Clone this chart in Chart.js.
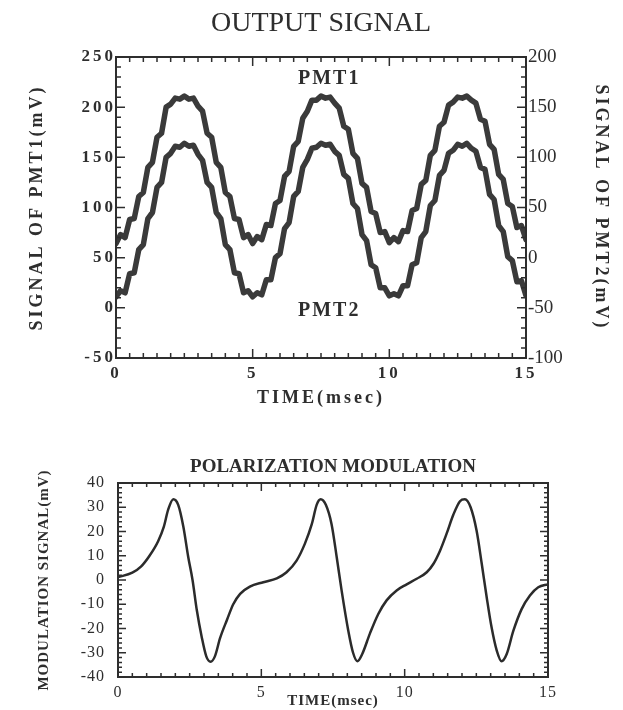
<!DOCTYPE html>
<html lang="en">
<head>
<meta charset="UTF-8">
<title>Output signal / Polarization modulation</title>
<script src="https://cdn.jsdelivr.net/npm/chart.js@4"></script>
<style>
  body { margin: 0; background: #fff; }
  #wrap { position: relative; width: 623px; height: 710px; }
  canvas { position: absolute; left: 0; }
  #topChart { top: 0; }
  #bottomChart { top: 430px; }
</style>
</head>
<body>
<div id="wrap">
  <canvas id="topChart" width="623" height="420"></canvas>
  <canvas id="bottomChart" width="623" height="280"></canvas>
</div>
<script>
// ---- values ----
// output signal, sampled at the corners of the ripple steps (msec)
const topTime = [0, 0.167, 0.333, 0.5, 0.667, 0.833, 1, 1.167, 1.333, 1.5, 1.667, 1.833,
  2, 2.167, 2.333, 2.5, 2.667, 2.833, 3, 3.167, 3.333, 3.5, 3.667, 3.833,
  4, 4.167, 4.333, 4.5, 4.667, 4.833, 5, 5.167, 5.333, 5.5, 5.667, 5.833,
  6, 6.167, 6.333, 6.5, 6.667, 6.833, 7, 7.167, 7.333, 7.5, 7.667, 7.833,
  8, 8.167, 8.333, 8.5, 8.667, 8.833, 9, 9.167, 9.333, 9.5, 9.667, 9.833,
  10, 10.167, 10.333, 10.5, 10.667, 10.833, 11, 11.167, 11.333, 11.5, 11.667, 11.833,
  12, 12.167, 12.333, 12.5, 12.667, 12.833, 13, 13.167, 13.333, 13.5, 13.667, 13.833,
  14, 14.167, 14.333, 14.5, 14.667, 14.833, 15];
// PMT1, left axis (mV)
const pmt1 = [64, 73, 70, 88, 89, 111, 115, 140, 145, 170, 174, 200,
  203, 209, 208, 211, 208, 209, 201, 196, 174, 170, 145, 140,
  115, 111, 89, 88, 70, 73, 64, 71, 68, 83, 82, 104,
  107, 131, 136, 161, 166, 189, 196, 207, 207, 211, 209, 210,
  204, 199, 181, 178, 154, 149, 124, 120, 96, 94, 75, 76,
  65, 70, 66, 77, 76, 97, 99, 123, 127, 152, 157, 181,
  185, 202, 205, 210, 209, 211, 207, 204, 188, 186, 163, 158,
  133, 128, 104, 101, 80, 82, 68];
// PMT2, right axis (mV)
const pmt2 = [-39, -33, -35, -16, -15, 8, 13, 39, 45, 70, 75, 100,
  104, 111, 110, 114, 111, 112, 103, 97, 75, 70, 45, 39,
  13, 8, -15, -16, -35, -33, -39, -35, -37, -22, -22, 0,
  4, 29, 35, 61, 66, 90, 98, 109, 110, 114, 112, 113,
  106, 102, 83, 79, 54, 49, 23, 17, -7, -10, -30, -30,
  -38, -36, -38, -28, -28, -7, -5, 20, 26, 52, 57, 82,
  87, 104, 107, 113, 111, 114, 109, 106, 90, 88, 63, 58,
  32, 26, 1, -3, -24, -23, -38];

const topXTicks = [0, 5, 10, 15];
const pmt1Ticks = [250, 200, 150, 100, 50, 0, -50];
const pmt2Ticks = [200, 150, 100, 50, 0, -50, -100];

// polarization modulation signal
const modTime = [0, 0.5, 0.8, 1.1, 1.4, 1.6, 1.75, 1.93, 2.1, 2.28, 2.45, 2.6, 2.75, 2.92,
  3.08, 3.23, 3.38, 3.56, 3.8, 4.02, 4.26, 4.6, 5.07, 5.54, 5.88, 6.23, 6.52, 6.76, 6.93,
  7.07, 7.25, 7.45, 7.63, 7.8, 8.03, 8.2, 8.35, 8.52, 8.79, 9.08, 9.37, 9.72, 10.07,
  10.42, 10.77, 11, 11.23, 11.46, 11.7, 11.93, 12.1, 12.3, 12.51, 12.69, 12.86, 13.03,
  13.21, 13.38, 13.56, 13.79, 14.08, 14.37, 14.66, 15];
const modSignal = [1.2, 3, 5.5, 10, 16, 22, 29, 33.3, 31, 22, 9.5, 0, -12.5, -23.5,
  -31.5, -33.7, -31.5, -24, -16.5, -10, -5.7, -2.7, -0.9, 0.7, 3.2, 8, 15, 23, 31,
  33.3, 31, 23, 9.4, -4.3, -20.7, -30, -33.5, -30.5, -22, -14, -8.4, -4.3, -1.8,
  0.5, 3.2, 6.6, 12, 19, 27, 32.5, 33.3, 30, 20.3, 6.6, -7, -19.4,
  -29, -33.5, -30.5, -21, -12, -6.4, -3, -1.8];

const modXTicks = [0, 5, 10, 15];
const modYTicks = [40, 30, 20, 10, 0, -10, -20, -30, -40];

// ---- look ----
const INK = '#2e2e2e';
const SERIF = "'Liberation Serif', 'DejaVu Serif', serif";

// frame, inward tick marks, in-plot labels, letter spacing for axis text
const frameTicks = {
  id: 'frameTicks',
  beforeDraw(chart) {
    chart.ctx.letterSpacing = '0px';
  },
  afterDatasetsDraw(chart, args, opts) {
    chart.ctx.letterSpacing = opts.spacing + 'px';
  },
  afterDraw(chart, args, opts) {
    const ctx = chart.ctx;
    const a = chart.chartArea;
    const xs = chart.scales.x;
    const yl = chart.scales[opts.left];
    const yr = chart.scales[opts.right || opts.left];
    const isMajor = (v, step) => Math.abs(v / step - Math.round(v / step)) < 1e-6;

    ctx.save();
    ctx.letterSpacing = '0px';
    ctx.strokeStyle = INK;
    ctx.lineWidth = 2;
    ctx.strokeRect(a.left, a.top, a.right - a.left, a.bottom - a.top);

    ctx.lineWidth = 1.5;
    ctx.beginPath();
    for (let v = xs.min; v <= xs.max + 1e-9; v += opts.xMinor) {
      const len = isMajor(v, opts.xMajor) ? opts.majorLen : opts.minorLen;
      const px = xs.getPixelForValue(v);
      ctx.moveTo(px, a.bottom); ctx.lineTo(px, a.bottom - len);
      ctx.moveTo(px, a.top); ctx.lineTo(px, a.top + len);
    }
    for (let v = yl.min; v <= yl.max + 1e-9; v += opts.yMinor) {
      const len = isMajor(v, opts.yMajor) ? opts.majorLen : opts.minorLen;
      const py = yl.getPixelForValue(v);
      ctx.moveTo(a.left, py); ctx.lineTo(a.left + len, py);
    }
    for (let v = yr.min; v <= yr.max + 1e-9; v += opts.yMinor) {
      const len = isMajor(v, opts.yMajor) ? opts.majorLen : opts.minorLen;
      const py = yr.getPixelForValue(v);
      ctx.moveTo(a.right, py); ctx.lineTo(a.right - len, py);
    }
    ctx.stroke();

    (opts.labels || []).forEach(l => {
      ctx.letterSpacing = l.spacing + 'px';
      ctx.font = 'bold ' + l.size + 'px ' + SERIF;
      ctx.fillStyle = INK;
      ctx.textAlign = 'center';
      ctx.textBaseline = 'middle';
      ctx.fillText(l.text, xs.getPixelForValue(l.x), yl.getPixelForValue(l.y));
    });
    ctx.restore();
    ctx.letterSpacing = '0px';
  }
};

const fixedTicks = list => scale => { scale.ticks = list.map(v => ({ value: v })); };
const font = (size, weight) => ({ family: SERIF, size: size, weight: weight || 'normal' });

// ---- output signal ----
new Chart(document.getElementById('topChart'), {
  type: 'line',
  data: {
    datasets: [{
      label: 'PMT1',
      data: topTime.map((t, i) => ({ x: t, y: pmt1[i] })),
      yAxisID: 'y',
      borderColor: '#3a3a3a',
      borderWidth: 5.5,
      borderJoinStyle: 'round',
      borderCapStyle: 'round',
      pointRadius: 0,
      tension: 0
    }, {
      label: 'PMT2',
      data: topTime.map((t, i) => ({ x: t, y: pmt2[i] })),
      yAxisID: 'y2',
      borderColor: '#3a3a3a',
      borderWidth: 5.5,
      borderJoinStyle: 'round',
      borderCapStyle: 'round',
      pointRadius: 0,
      tension: 0
    }]
  },
  options: {
    responsive: false,
    animation: false,
    devicePixelRatio: 1,
    layout: { padding: 0 },
    scales: {
      x: {
        type: 'linear', min: 0, max: 15,
        afterBuildTicks: fixedTicks(topXTicks),
        afterFit: s => { s.height = 62; },
        grid: { display: false, drawTicks: false, z: 1 },
        border: { display: false },
        ticks: { z: 1, padding: 5, color: INK, font: font(17, 'bold'), maxRotation: 0, autoSkip: false },
        title: { display: true, text: 'TIME(msec)', color: INK, font: font(18, 'bold'), padding: { top: 0, bottom: 11 } }
      },
      y: {
        type: 'linear', position: 'left', min: -50, max: 250,
        afterBuildTicks: fixedTicks(pmt1Ticks),
        afterFit: s => { s.width = 116; },
        grid: { display: false, drawTicks: false, z: 1 },
        border: { display: false },
        ticks: { z: 1, padding: 0, color: INK, font: font(17, 'bold') },
        title: { display: true, text: 'SIGNAL OF PMT1(mV)', color: INK, font: font(18, 'bold'), padding: { top: 27, bottom: 0 } }
      },
      y2: {
        type: 'linear', position: 'right', min: -100, max: 200,
        afterBuildTicks: fixedTicks(pmt2Ticks),
        afterFit: s => { s.width = 97; },
        grid: { display: false, drawTicks: false, z: 1 },
        border: { display: false },
        ticks: { z: 0, padding: 2, color: INK, font: font(19) },
        title: { display: true, text: 'SIGNAL OF PMT2(mV)', color: INK, font: font(18, 'bold'), padding: { top: 12, bottom: 0 } }
      }
    },
    plugins: {
      legend: { display: false },
      tooltip: { enabled: false },
      title: {
        display: true, text: 'OUTPUT SIGNAL', fullSize: false, color: INK,
        font: font(28), padding: { top: 7, bottom: 16.4 }
      },
      frameTicks: {
        left: 'y', right: 'y2', spacing: 3,
        xMinor: 0.5, xMajor: 5, yMinor: 10, yMajor: 50,
        minorLen: 5, majorLen: 9,
        labels: [
          { text: 'PMT1', x: 7.8, y: 228, size: 20, spacing: 2 },
          { text: 'PMT2', x: 7.8, y: -3, size: 20, spacing: 2 }
        ]
      }
    }
  },
  plugins: [frameTicks]
});

// ---- polarization modulation ----
new Chart(document.getElementById('bottomChart'), {
  type: 'line',
  data: {
    datasets: [{
      label: 'Modulation signal',
      data: modTime.map((t, i) => ({ x: t, y: modSignal[i] })),
      borderColor: '#2b2b2b',
      borderWidth: 2.5,
      pointRadius: 0,
      cubicInterpolationMode: 'monotone'
    }]
  },
  options: {
    responsive: false,
    animation: false,
    devicePixelRatio: 1,
    layout: { padding: { left: 0, right: 75, top: 0, bottom: 0 } },
    scales: {
      x: {
        type: 'linear', min: 0, max: 15,
        afterBuildTicks: fixedTicks(modXTicks),
        afterFit: s => { s.height = 33; },
        grid: { display: false, drawTicks: false, z: 1 },
        border: { display: false },
        ticks: { z: 1, padding: 6, color: INK, font: font(16), maxRotation: 0, autoSkip: false },
        title: { display: true, text: 'TIME(msec)', color: INK, font: font(15, 'bold'), padding: { top: 0, bottom: 0 } }
      },
      y: {
        type: 'linear', position: 'left', min: -40, max: 40,
        afterBuildTicks: fixedTicks(modYTicks),
        afterFit: s => { s.width = 118; },
        grid: { display: false, drawTicks: false, z: 1 },
        border: { display: false },
        ticks: { z: 1, padding: 13, color: INK, font: font(16) },
        title: { display: true, text: 'MODULATION SIGNAL(mV)', color: INK, font: font(15, 'bold'), padding: { top: 35, bottom: 0 } }
      }
    },
    plugins: {
      legend: { display: false },
      tooltip: { enabled: false },
      title: {
        display: true, text: 'POLARIZATION MODULATION', fullSize: false, color: INK,
        font: font(19, 'bold'), padding: { top: 26, bottom: 4.2 }
      },
      frameTicks: {
        left: 'y', spacing: 1,
        xMinor: 0.5, xMajor: 5, yMinor: 2, yMajor: 10,
        minorLen: 4, majorLen: 8
      }
    }
  },
  plugins: [frameTicks]
});
</script>
</body>
</html>
